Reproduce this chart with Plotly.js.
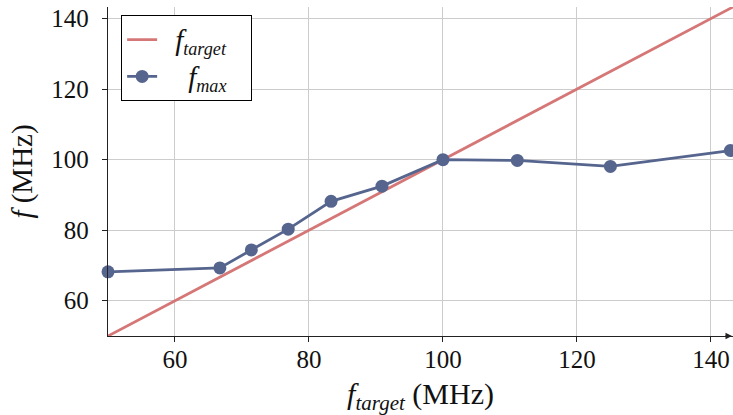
<!DOCTYPE html>
<html>
<head>
<meta charset="utf-8">
<script src="https://cdn.plot.ly/plotly-3.0.1.min.js"></script>
<style>
html,body{margin:0;padding:0;background:#fff;}
#chart{width:733px;height:415px;}
</style>
</head>
<body>
<div id="chart"></div>
<script>
// Data
const targetX = [50, 143.3];
const targetY = [50, 143.3];
const fTargetX = [50, 66.7, 71.4, 76.9, 83.3, 90.9, 100, 111.1, 125, 142.9];
const fMaxY = [68.2, 69.3, 74.4, 80.3, 88.2, 92.5, 100, 99.8, 98.1, 102.6];
const xTicks = [60, 80, 100, 120, 140];
const yTicks = [60, 80, 100, 120, 140];

const redC = '#d67777';
const blueC = '#56658e';
const fontFam = 'Liberation Serif';

const traces = [
  {
    x: targetX, y: targetY, mode: 'lines', type: 'scatter',
    name: '&nbsp;&nbsp;<i><span style="font-size:29px">f</span><sub>target</sub></i>&nbsp;&nbsp;&nbsp;',
    line: {color: redC, width: 2.8},
    hoverinfo: 'skip'
  },
  {
    x: fTargetX, y: fMaxY, mode: 'lines+markers', type: 'scatter',
    name: '&nbsp;&nbsp;&nbsp;&nbsp;<i><span style="font-size:29px">f</span><sub>max</sub></i>',
    line: {color: blueC, width: 2.8},
    marker: {color: blueC, size: 13},
    cliponaxis: false
  }
];

const layout = {
  width: 733, height: 415,
  margin: {l: 108, r: 0, t: 7, b: 79},
  paper_bgcolor: '#fff', plot_bgcolor: '#fff',
  font: {family: fontFam, size: 25, color: '#111'},
  showlegend: true,
  legend: {
    x: 0.021, y: 0.975, xanchor: 'left', yanchor: 'top',
    bgcolor: '#fff', bordercolor: '#000', borderwidth: 1,
    font: {family: fontFam, size: 26, color: '#111'},
    tracegroupgap: 0
  },
  xaxis: {
    range: [50, 143.3],
    tickvals: xTicks, ticktext: xTicks.map(String),
    tickfont: {family: fontFam, size: 25, color: '#111'},
    showgrid: true, gridcolor: '#cccccc', gridwidth: 1,
    zeroline: false,
    showline: true, linecolor: '#222', linewidth: 1.3,
    ticks: 'outside', ticklen: 5, tickcolor: '#222',
    ticklabelstandoff: -4,
    title: {text: '<i>f<sub>target</sub></i> (MHz)', font: {family: fontFam, size: 30, color: '#111'}, standoff: 12}
  },
  yaxis: {
    range: [50, 143.3],
    tickvals: yTicks, ticktext: yTicks.map(String),
    tickfont: {family: fontFam, size: 25, color: '#111'},
    showgrid: true, gridcolor: '#cccccc', gridwidth: 1,
    zeroline: false,
    showline: true, linecolor: '#222', linewidth: 1.3,
    ticks: 'outside', ticklen: 5, tickcolor: '#222',
    ticklabelstandoff: 8,
    title: {text: '<i>f</i> (MHz)', font: {family: fontFam, size: 29, color: '#111'}, standoff: 10}
  },
  annotations: [
    {xref: 'paper', yref: 'paper', x: 0, y: 1.005, ax: 0, ay: 12,
     showarrow: true, arrowhead: 2, arrowsize: 1, arrowwidth: 1.3, arrowcolor: '#222', text: ' '},
    {xref: 'paper', yref: 'paper', x: 1.0, y: 0, ax: -12, ay: 0,
     showarrow: true, arrowhead: 2, arrowsize: 1, arrowwidth: 1.3, arrowcolor: '#222', text: ' '}
  ]
};

Plotly.newPlot('chart', traces, layout, {staticPlot: true, displayModeBar: false});
</script>
</body>
</html>
